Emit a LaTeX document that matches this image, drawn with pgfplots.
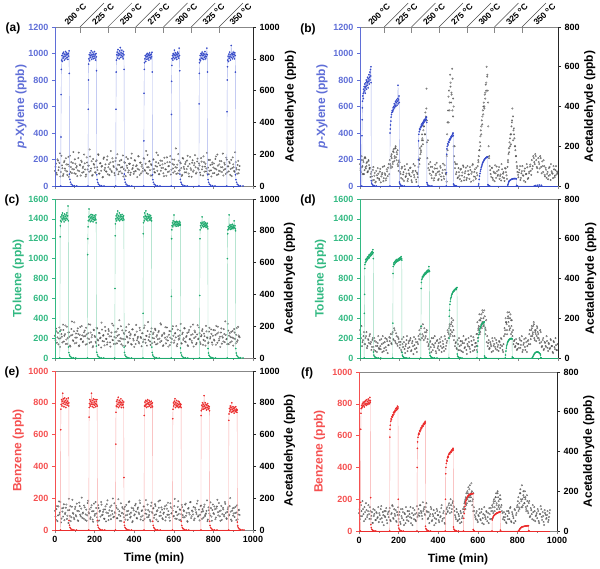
\documentclass[border=0pt]{standalone}
\usepackage{pgfplots}
\pgfplotsset{compat=1.18}
\usepackage{pgfplotstable}
\usepackage{fontspec}
\setmainfont{Liberation Sans}
\definecolor{blueT}{RGB}{95,110,215}
\definecolor{blueD}{RGB}{55,75,200}
\definecolor{blueL}{RGB}{165,175,235}
\definecolor{greenT}{RGB}{50,185,130}
\definecolor{greenD}{RGB}{30,170,110}
\definecolor{greenL}{RGB}{145,215,185}
\definecolor{redT}{RGB}{245,80,80}
\definecolor{redD}{RGB}{235,45,45}
\definecolor{redL}{RGB}{248,165,165}
\definecolor{grayP}{RGB}{80,80,80}
\definecolor{axgray}{RGB}{135,135,135}

\pgfplotstableread{
t a c e b d f
0 95 140 120 110 140 90
5 140 185 64 70 100 60
10 72 96 150 95 60 130
15 160 158 92 130 90 75
20 118 122 180 60 130 110
25 205 70 110 145 70 50
30 88 176 48 88 110 95
35 130 134 136 120 50 140
40 64 210 84 75 95 70
45 150 104 162 105 75 100
50 110 150 100 92 120 85
55 175 88 140 60 80 120
60 92 196 70 48 55 60
65 135 126 124 80 100 95
70 58 162 196 30 40 40
75 190 78 88 66 85 75
80 120 142 56 22 60 105
85 82 230 146 54 30 55
90 145 112 108 90 75 90
95 105 168 78 38 50 70
100 168 92 132 72 90 45
105 76 154 94 18 45 80
110 125 128 166 58 70 110
115 98 186 60 96 110 65
120 210 74 118 40 35 95
125 134 146 150 64 80 30
130 66 118 86 28 55 75
135 152 200 204 84 95 100
140 112 100 104 50 25 55
145 88 136 72 110 65 85
150 142 172 142 130 85 70
155 60 84 98 90 120 115
160 180 148 58 160 70 50
165 104 124 170 120 130 90
170 128 212 112 185 90 125
175 230 96 130 140 140 60
180 94 160 80 200 75 85
185 156 130 156 170 110 105
190 70 68 66 110 60 45
195 138 178 120 75 95 80
200 116 138 90 120 50 60
205 84 102 176 60 80 95
210 162 190 104 88 30 35
215 100 116 52 34 70 75
220 196 82 138 70 105 110
225 78 156 116 100 45 55
230 144 128 84 46 60 90
235 122 222 160 62 90 40
240 54 106 96 24 35 70
245 170 144 128 80 75 100
250 102 80 70 56 55 50
255 136 170 148 92 100 85
260 90 120 110 30 40 120
265 186 98 186 68 85 65
270 118 182 62 110 20 30
275 68 136 124 44 65 80
280 148 72 92 76 95 105
285 96 160 154 20 50 55
290 174 114 100 60 80 90
295 126 204 80 96 110 70
300 82 132 168 110 140 110
305 158 90 106 160 90 75
310 110 166 140 200 160 130
315 200 140 74 240 120 90
320 74 108 194 280 110 60
325 132 238 118 330 150 100
330 92 124 88 370 100 120
335 164 86 56 390 130 80
340 120 174 144 140 80 140
345 60 118 102 90 60 95
350 150 152 130 80 45 65
355 98 76 66 120 85 40
360 182 194 158 54 30 85
365 114 130 96 96 70 110
370 86 102 120 70 100 55
375 140 162 180 40 55 75
380 70 142 78 108 75 30
385 176 88 110 62 25 90
390 106 180 50 88 90 60
395 130 120 136 30 60 100
400 90 70 92 74 40 80
405 160 148 154 100 80 45
410 124 208 116 48 105 70
415 56 112 72 66 50 115
420 188 134 142 112 70 50
425 102 92 100 36 35 90
430 146 174 170 82 95 65
435 80 126 84 58 60 35
440 134 156 124 260 85 85
445 112 100 60 380 130 120
450 172 188 148 480 150 100
455 96 116 104 560 110 140
460 220 140 188 420 170 90
465 118 78 80 590 130 130
470 76 226 126 350 190 110
475 154 132 94 150 90 150
480 100 104 64 90 60 120
485 138 166 152 60 80 80
490 66 94 112 110 45 60
495 166 150 134 44 70 95
500 108 124 76 70 100 55
505 84 184 162 34 40 75
510 150 86 98 86 65 40
515 122 144 118 52 85 90
520 194 118 54 104 30 65
525 74 170 140 28 75 110
530 130 100 186 64 55 120
535 96 210 90 92 95 150
540 158 138 128 40 20 170
545 114 76 68 76 60 140
550 62 158 110 58 80 190
555 142 128 150 96 45 150
560 104 92 82 22 110 230
565 180 192 134 70 65 170
570 88 110 172 110 35 200
575 126 146 96 48 90 160
580 150 82 58 84 55 120
585 72 168 144 36 75 80
590 168 120 106 66 40 60
595 110 200 122 100 100 100
600 134 96 88 150 160 45
605 92 154 196 220 120 75
610 236 130 114 280 200 90
615 116 74 70 330 150 55
620 80 178 146 380 230 110
625 160 116 102 420 170 65
630 100 142 130 460 210 35
635 142 214 62 510 140 80
640 64 90 158 600 80 60
645 176 160 94 480 60 95
650 120 124 124 200 90 70
655 86 186 80 100 50 40
660 152 100 166 60 70 85
665 106 138 108 90 30 115
670 190 80 52 40 85 60
675 78 164 138 72 60 100
680 138 118 98 24 100 140
685 112 196 176 64 45 120
690 58 108 86 98 75 170
695 162 150 116 50 55 130
700 98 72 144 80 35 200
705 144 172 72 36 80 150
710 118 134 128 58 65 110
715 84 94 100 110 95 160
720 172 206 184 44 40 130
725 104 122 90 70 70 90
730 130 156 60 26 150 70
735 68 88 150 88 200 55
740 154 144 112 54 170 85
745 122 182 132 96 230 40
750 186 114 78 160 180 75
755 90 138 160 220 140 100
760 140 78 96 260 220 60
765 110 168 120 300 160 120
770 76 126 56 390 110 45
775 164 98 142 280 70 85
780 96 190 104 240 90 65
785 132 132 174 180 60 110
790 60 152 84 120 75 50
795 148 84 126 70 45 90
800 116 176 106 44 70 130
805 82 110 148 82 100 170
810 170 144 68 30 50 110
815 104 202 136 64 85 210
820 198 96 190 100 30 150
825 74 160 92 52 65 120
830 136 122 118 76 95 180
835 92 70 58 20 40 140
840 156 186 152 60 80 160
845 118 136 100 94 60 100
850 66 104 130 40 90 125
855 146 150 86 72 120 90
860 108 230 164 108 70 150
865 178 118 74 56 140 75
870 86 88 114 86 110 105
875 124 172 144 150 160 60
880 152 140 96 120 100 95
885 70 98 200 160 130 120
890 164 164 66 130 85 50
895 112 128 122 90 150 80
900 136 78 90 140 120 65
905 94 182 140 110 90 100
910 212 120 108 150 140 40
915 114 146 62 96 80 85
920 78 102 156 124 60 110
925 158 196 98 70 100 55
930 102 134 128 100 45 75
935 nan nan nan 48 75 30
940 nan nan nan 82 55 90
945 nan nan nan 60 85 60
950 nan nan nan 34 35 80
955 nan nan nan 90 70 45
960 nan nan nan 56 50 70
965 nan nan nan 110 90 105
970 nan nan nan 66 60 nan
975 nan nan nan 40 25 nan
980 nan nan nan 84 80 nan
985 nan nan nan 52 45 nan
990 nan nan nan 100 65 nan
995 nan nan nan 74 40 nan
}\gtab

\pgfplotstableread{
t a c e b d f
2.5 120 112 84 80 120 110
7.5 82 168 132 130 160 75
12.5 168 130 56 100 80 100
17.5 100 86 148 60 110 150
22.5 146 192 98 140 70 85
27.5 60 124 176 95 100 120
32.5 190 150 72 115 130 60
37.5 112 98 116 70 60 105
42.5 76 176 140 125 90 80
47.5 158 140 62 85 110 130
52.5 98 204 108 45 70 60
57.5 136 116 160 70 40 100
62.5 70 90 90 28 90 75
67.5 182 160 44 95 55 40
72.5 124 134 126 52 100 110
77.5 88 72 150 18 35 85
82.5 150 182 80 76 80 55
87.5 106 146 190 40 60 95
92.5 214 108 102 62 110 65
97.5 80 224 68 30 45 120
102.5 140 128 146 86 60 90
107.5 116 96 86 48 95 60
112.5 62 170 120 66 30 125
117.5 176 152 58 24 75 45
122.5 94 80 172 100 50 80
127.5 130 196 96 56 100 100
132.5 160 118 134 38 40 70
137.5 84 142 76 74 85 115
142.5 122 104 110 92 65 40
147.5 198 162 154 60 105 95
152.5 104 138 64 110 100 100
157.5 72 190 128 150 75 55
162.5 148 88 92 95 120 85
167.5 128 156 184 175 95 130
172.5 90 120 104 125 150 65
177.5 186 210 70 190 85 110
182.5 110 100 142 145 125 75
187.5 64 144 118 160 70 50
192.5 170 76 52 100 105 95
197.5 134 174 166 130 80 120
202.5 86 132 100 70 65 80
207.5 156 94 138 40 40 45
212.5 118 186 80 96 95 110
217.5 200 110 156 58 55 65
222.5 78 158 60 26 80 95
227.5 142 124 122 84 25 30
232.5 96 66 176 50 70 85
237.5 126 178 94 110 110 120
242.5 58 140 114 36 50 55
247.5 180 104 72 64 85 75
252.5 114 196 130 90 90 100
257.5 92 120 54 48 35 70
262.5 164 84 162 20 75 40
267.5 74 150 106 76 60 90
272.5 138 170 88 56 105 115
277.5 106 98 144 102 45 60
282.5 220 136 68 32 80 85
287.5 88 216 120 68 30 50
292.5 152 112 198 44 70 125
297.5 120 88 84 130 95 80
302.5 68 164 112 140 120 90
307.5 176 128 152 180 150 130
312.5 102 92 74 230 100 100
317.5 134 184 130 210 170 75
322.5 90 146 96 300 90 145
327.5 158 106 58 260 130 110
332.5 116 200 168 350 110 85
337.5 80 122 108 330 140 120
342.5 192 78 136 230 95 100
347.5 108 158 80 110 70 60
352.5 146 118 146 62 80 95
357.5 62 172 92 96 55 75
362.5 128 136 118 40 100 120
367.5 170 96 64 74 40 50
372.5 98 212 176 28 65 85
377.5 140 124 102 88 110 105
382.5 84 150 84 54 35 65
387.5 204 84 140 116 85 40
392.5 112 180 56 70 50 110
397.5 76 110 124 36 75 80
402.5 162 142 98 58 95 55
407.5 94 88 164 92 60 95
412.5 130 166 76 30 30 75
417.5 108 126 132 80 85 130
422.5 186 100 110 48 55 60
427.5 70 190 186 104 110 100
432.5 148 132 66 66 45 40
437.5 122 74 120 22 75 85
442.5 92 156 90 180 140 110
447.5 174 116 148 320 100 95
452.5 100 204 70 420 170 130
457.5 140 96 128 520 120 115
462.5 82 138 100 460 200 160
467.5 196 170 160 540 160 95
472.5 118 112 82 400 140 140
477.5 156 148 116 200 110 125
482.5 66 82 54 110 75 100
487.5 132 186 172 70 50 70
492.5 104 126 106 40 90 110
497.5 168 160 138 90 40 50
502.5 88 100 94 52 60 85
507.5 126 176 150 82 85 60
512.5 210 134 66 24 35 100
517.5 96 90 124 68 75 45
522.5 144 162 180 96 110 75
527.5 74 122 88 44 50 95
532.5 160 218 112 74 90 140
537.5 114 108 142 30 40 110
542.5 136 146 74 100 70 190
547.5 80 80 102 58 100 160
552.5 178 152 134 36 55 220
557.5 106 194 60 80 30 170
562.5 64 116 156 62 85 180
567.5 150 134 96 104 65 240
572.5 124 72 120 28 105 150
577.5 92 170 78 70 40 190
582.5 188 128 168 46 75 100
587.5 102 98 104 92 60 70
592.5 140 182 136 54 120 90
597.5 84 140 86 130 140 55
602.5 166 110 150 180 190 80
607.5 118 156 72 200 130 110
612.5 76 200 114 260 220 60
617.5 134 88 94 310 180 95
622.5 200 138 182 360 160 40
627.5 96 124 64 400 240 85
632.5 148 172 126 440 150 120
637.5 112 94 100 480 190 70
642.5 70 150 144 550 110 100
647.5 172 114 80 420 75 50
652.5 108 188 118 150 45 90
657.5 138 104 160 80 80 115
662.5 86 132 90 46 60 60
667.5 160 158 56 92 100 100
672.5 124 76 134 30 35 130
677.5 60 176 108 66 70 90
682.5 182 120 174 104 55 160
687.5 100 144 76 40 90 150
692.5 146 96 122 74 40 190
697.5 90 210 98 56 65 110
702.5 130 126 62 96 85 170
707.5 194 162 140 50 50 130
712.5 78 86 112 28 100 180
717.5 154 148 166 84 60 120
722.5 112 118 84 62 30 100
727.5 142 192 128 40 110 60
732.5 84 100 96 90 120 95
737.5 176 136 154 70 180 70
742.5 104 170 70 36 140 45
747.5 66 82 118 130 210 100
752.5 150 154 146 190 160 60
757.5 122 108 88 240 200 90
762.5 92 202 104 210 120 115
767.5 208 130 186 330 190 50
772.5 116 92 66 350 140 95
777.5 74 166 124 260 85 75
782.5 164 122 92 200 55 40
787.5 98 180 138 150 95 105
792.5 136 98 58 90 40 80
797.5 80 140 160 56 70 120
802.5 142 116 100 68 50 150
807.5 110 174 130 100 90 120
812.5 186 84 78 40 65 190
817.5 70 152 148 76 110 160
822.5 128 196 112 54 40 230
827.5 96 110 170 26 75 130
832.5 158 134 86 88 55 170
837.5 118 160 122 60 100 200
842.5 88 90 64 110 30 120
847.5 204 128 140 36 85 180
852.5 102 182 96 64 70 100
857.5 134 100 176 98 140 140
862.5 76 146 108 76 95 70
867.5 166 120 70 130 160 115
872.5 124 214 132 100 120 85
877.5 92 88 90 140 180 130
882.5 144 156 150 110 90 55
887.5 108 132 116 150 140 100
892.5 62 104 58 96 110 75
897.5 180 170 136 70 130 90
902.5 118 124 104 120 100 110
907.5 90 160 82 88 75 50
912.5 150 92 146 140 130 85
917.5 104 188 110 64 55 125
922.5 132 112 68 100 90 70
927.5 80 142 124 130 40 95
932.5 126 130 94 56 80 45
937.5 nan nan nan 92 60 105
942.5 nan nan nan 40 110 80
947.5 nan nan nan 70 50 65
952.5 nan nan nan 50 75 100
957.5 nan nan nan 96 45 55
962.5 nan nan nan 30 95 90
967.5 nan nan nan 74 60 nan
972.5 nan nan nan 62 30 nan
977.5 nan nan nan 100 85 nan
982.5 nan nan nan 44 55 nan
987.5 nan nan nan 80 100 nan
992.5 nan nan nan 58 40 nan
997.5 nan nan nan 66 70 nan
}\gtabb

\newcommand{\lblfont}{\fontsize{12}{12}\selectfont\bfseries}
\newcommand{\tckfont}{\fontsize{9}{9}\selectfont\bfseries}

\pgfplotsset{
  base/.style={width=198pt, height=159pt, scale only axis, xmin=0, xmax=1000, clip=false,
    /pgf/number format/assume math mode=true,
    /pgf/number format/1000 sep={},
    xticklabel style={font=\tckfont},
    yticklabel style={font=\tckfont},
    tick align=outside, major tick length=3pt, minor tick length=1.6pt,
    every axis y label/.style={at={(axis description cs:-0.18,0.5)}, rotate=90, anchor=center, font=\lblfont},
    every axis x label/.style={at={(axis description cs:0.5,-0.176)}, anchor=center, font=\lblfont},
  },
  leftax/.style={base, axis y line*=left, axis x line*=box, xtick pos=left,
    xtick={0,200,...,1000}, minor x tick num=1,
    x axis line style={draw=axgray, line width=0.6pt},
    xtick style={draw=axgray, line width=0.6pt},
    y axis line style={draw=#1, line width=0.6pt},
    ytick style={draw=#1, line width=0.6pt},
    yticklabel style={text=#1},
    ylabel style={text=#1},
  },
  rightax/.style={base, axis y line*=right, axis x line=none,
    y axis line style={draw=black!85, line width=0.6pt},
    ytick style={draw=black!85, line width=0.6pt},
    every axis y label/.style={at={(axis description cs:#1,0.5)}, rotate=90, anchor=center, font=\lblfont},
    ylabel={Acetaldehyde (ppb)},
  },
  grayscat/.style={only marks, mark=o, mark size=0.8pt, mark options={draw=grayP, line width=0.3pt}},
  voc/.style={draw=#1L, line width=0.4pt, mark=*, mark size=0.6pt, mark options={draw=#1D, fill=#1D}},
  base0/.style={draw=#1D, line width=0.9pt},
}
\tikzset{tl/.style={rotate=45, anchor=south west, inner sep=0.6pt, font=\fontsize{8.5}{8.5}\selectfont\bfseries}}

\begin{document}
\begin{tikzpicture}
\useasboundingbox (0pt,0pt) rectangle (600pt,-568pt);

% ---------------- (a)
\begin{axis}[rightax=1.19, at={(55pt,-27pt)}, anchor=north west, ymin=0, ymax=1000, ytick={0,200,...,1000}]
\addplot[grayscat] table[x=t,y=a]{\gtab};
\addplot[grayscat] table[x=t,y=a]{\gtabb};
\end{axis}
\begin{axis}[leftax=blueT, at={(55pt,-27pt)}, anchor=north west, ymin=0, ymax=1200, ytick={0,200,...,1200},
  xticklabels={}, ylabel={\textit{p}-Xylene (ppb)}, ylabel style={at={(axis description cs:-0.172,0.5)}}]
\addplot[voc=blue] coordinates {
(29,0)(30,370)(31,690)(32,880)(33,950)(35,985)(37,940)(39,1000)(41,965)(43,1010)(45,975)(47,950)(49,995)(51,980)(53,1015)(55,960)(57,990)(59,1005)(61,970)(63,995)(65,955)(67,1000)(69,980)(71,1020)(72,850)(73,90)(75,50)(78,28)(82,14)(88,6)(97,2)(110,0)
(167,0)(168,580)(169,800)(170,920)(171,960)(173,990)(175,945)(177,1005)(179,970)(181,985)(183,1020)(185,955)(187,990)(189,975)(191,1010)(193,960)(195,995)(197,980)(199,1015)(201,965)(203,990)(205,950)(207,1000)(209,975)(210,870)(211,85)(213,48)(216,27)(220,13)(226,6)(235,2)(248,0)
(307,0)(308,580)(309,860)(310,950)(312,990)(314,1010)(316,965)(318,1030)(320,985)(322,1000)(324,960)(326,1020)(328,990)(330,1045)(332,970)(334,1005)(336,985)(338,1025)(340,975)(342,1000)(344,960)(346,1015)(348,990)(349,880)(350,90)(352,50)(355,28)(359,14)(365,6)(374,2)(388,0)
(448,0)(449,340)(450,700)(451,880)(452,930)(454,960)(456,985)(458,940)(460,975)(462,995)(464,955)(466,980)(468,1000)(470,965)(472,990)(474,950)(476,985)(478,1005)(480,970)(482,990)(484,960)(486,995)(488,975)(490,1010)(491,860)(492,85)(494,48)(497,27)(501,13)(507,6)(516,2)(530,0)
(587,0)(588,540)(589,790)(590,910)(591,960)(593,985)(595,950)(597,1000)(599,970)(601,990)(603,1025)(605,960)(607,985)(609,1005)(611,970)(613,995)(615,955)(617,990)(619,1010)(621,975)(623,1000)(625,965)(627,1040)(629,985)(630,870)(631,90)(633,50)(636,28)(640,14)(646,6)(655,2)(668,0)
(727,0)(728,620)(729,850)(730,930)(731,955)(733,985)(735,945)(737,1000)(739,965)(741,990)(743,1010)(745,960)(747,985)(749,1000)(751,955)(753,995)(755,970)(757,1015)(759,980)(761,960)(763,995)(765,975)(767,1040)(769,990)(770,860)(771,85)(773,48)(776,27)(780,13)(786,6)(795,2)(808,0)
(868,0)(869,560)(870,800)(871,900)(872,950)(874,980)(876,940)(878,995)(880,965)(882,1010)(884,975)(886,950)(888,990)(890,1060)(892,970)(894,1000)(896,960)(898,990)(900,1010)(902,975)(904,995)(906,960)(908,1005)(910,985)(911,860)(912,85)(914,48)(917,27)(921,13)(927,6)(936,2)(950,0)
};
\addplot[base0=blue] coordinates {(0,0)(940,0)};
\pgfplotsinvokeforeach{126,267,408,548,688,828}{
  \draw[axgray, line width=0.6pt] (axis cs:#1,1200) -- ++(0,-6pt);
  \draw[black!70, line width=0.5pt] (axis cs:#1,1200) -- ++(24pt,24pt);
}
\node[tl] at (axis cs:66,1200) {200 \textsuperscript{o}C};
\node[tl] at (axis cs:206,1200) {225 \textsuperscript{o}C};
\node[tl] at (axis cs:346,1200) {250 \textsuperscript{o}C};
\node[tl] at (axis cs:486,1200) {275 \textsuperscript{o}C};
\node[tl] at (axis cs:626,1200) {300 \textsuperscript{o}C};
\node[tl] at (axis cs:764,1200) {325 \textsuperscript{o}C};
\node[tl] at (axis cs:900,1200) {350 \textsuperscript{o}C};
\end{axis}

% ---------------- (b)
\begin{axis}[rightax=1.16, at={(360pt,-27pt)}, anchor=north west, ymin=0, ymax=800, ytick={0,200,...,800}]
\addplot[grayscat] table[x=t,y=b]{\gtab};
\addplot[grayscat] table[x=t,y=b]{\gtabb};
\addplot[grayscat] coordinates {(3,90)(8,150)(13,60)(18,120)(23,80)(28,140)(33,100)(38,70)(43,130)(48,90)
(155,100)(160,140)(165,110)(170,170)(175,150)(180,190)(185,130)(190,180)(195,120)
(298,130)(303,190)(308,170)(313,260)(318,230)(323,300)(328,260)(332,340)(336,490)(338,220)
(438,150)(442,320)(447,450)(452,380)(457,500)(462,470)(467,380)(470,440)(473,200)(478,120)
(598,120)(603,180)(608,250)(613,300)(618,350)(623,400)(628,390)(633,470)(638,520)(643,560)(648,300)(652,140)
(748,120)(753,170)(758,200)(763,260)(768,320)(773,230)(778,290)(783,200)(788,150)(793,100)};
\end{axis}
\begin{axis}[leftax=blueT, at={(360pt,-27pt)}, anchor=north west, ymin=0, ymax=1200, ytick={0,200,...,1200},
  xticklabels={}, ylabel={\textit{p}-Xylene (ppb)}, ylabel style={at={(axis description cs:-0.192,0.5)}}]
\addplot[voc=blue] coordinates {
(9,0)(10,380)(11,500)(12,590)(13,640)(14,680)(16,700)(17,660)(18,730)(20,710)(21,750)(23,720)(24,770)(26,740)(27,700)(29,780)(30,750)(32,800)(33,730)(35,790)(36,760)(38,820)(39,780)(41,740)(42,810)(44,790)(45,840)(47,770)(48,820)(50,860)(51,800)(53,880)(54,830)(55,900)(56,780)(57,40)(59,22)(62,12)(66,6)(72,2)(82,0)
(151,0)(152,400)(153,430)(154,460)(156,490)(157,520)(159,540)(161,555)(163,570)(165,560)(167,590)(169,575)(171,600)(173,620)(175,590)(177,610)(179,640)(181,600)(183,630)(185,650)(187,610)(189,640)(191,660)(192,760)(193,620)(195,650)(197,680)(198,630)(199,30)(201,17)(204,9)(208,4)(214,1)(224,0)
(294,0)(295,200)(296,340)(297,390)(299,410)(301,430)(303,425)(305,445)(307,440)(309,460)(311,450)(313,470)(315,460)(317,480)(319,470)(321,490)(323,480)(325,500)(327,490)(329,505)(331,495)(333,515)(335,500)(336,520)(337,480)(338,25)(340,14)(343,7)(347,3)(353,1)(363,0)
(436,0)(437,100)(438,240)(439,280)(441,300)(443,320)(445,310)(447,335)(449,330)(451,350)(453,345)(455,360)(457,355)(459,370)(461,365)(463,380)(465,375)(467,390)(469,395)(470,400)(471,380)(472,15)(474,8)(477,4)(481,2)(487,0)
(599,0)(600,15)(602,50)(604,75)(606,95)(608,112)(610,125)(612,138)(614,148)(616,158)(618,167)(620,175)(622,182)(624,188)(626,194)(628,199)(630,203)(632,207)(634,210)(636,213)(638,215)(640,217)(642,219)(644,220)(645,218)(646,10)(648,5)(651,2)(655,0)
(746,0)(747,10)(749,22)(751,30)(753,36)(755,40)(758,44)(761,47)(764,50)(767,52)(770,53)(773,55)(776,55)(779,56)(782,55)(785,56)(788,55)(790,54)(791,5)(793,2)(796,0)
(880,0)(885,4)(895,6)(905,7)(915,6)(918,0)
};
\addplot[base0=blue] coordinates {(0,0)(1000,0)};
\pgfplotsinvokeforeach{122,260,399,540,679,818}{
  \draw[axgray, line width=0.6pt] (axis cs:#1,1200) -- ++(0,-6pt);
  \draw[black!70, line width=0.5pt] (axis cs:#1,1200) -- ++(24pt,24pt);
}
\node[tl] at (axis cs:60,1200) {200 \textsuperscript{o}C};
\node[tl] at (axis cs:198,1200) {225 \textsuperscript{o}C};
\node[tl] at (axis cs:337,1200) {250 \textsuperscript{o}C};
\node[tl] at (axis cs:478,1200) {275 \textsuperscript{o}C};
\node[tl] at (axis cs:617,1200) {300 \textsuperscript{o}C};
\node[tl] at (axis cs:756,1200) {325 \textsuperscript{o}C};
\node[tl] at (axis cs:895,1200) {350 \textsuperscript{o}C};
\end{axis}

% ---------------- (c)
\begin{axis}[rightax=1.185, at={(55pt,-199pt)}, anchor=north west, ymin=0, ymax=1000, ytick={0,200,...,1000}]
\addplot[grayscat] table[x=t,y=c]{\gtab};
\addplot[grayscat] table[x=t,y=c]{\gtabb};
\end{axis}
\begin{axis}[leftax=greenT, at={(55pt,-199pt)}, anchor=north west, ymin=0, ymax=1600, ytick={0,200,...,1600},
  xticklabels={}, ylabel={Toluene (ppb)}, ylabel style={at={(axis description cs:-0.185,0.5)}}]
\addplot[voc=green] coordinates {
(24,0)(25,270)(26,1220)(27,1330)(28,1380)(30,1420)(32,1370)(34,1440)(36,1400)(38,1460)(40,1390)(42,1430)(44,1410)(46,1370)(48,1450)(50,1400)(52,1425)(54,1385)(56,1440)(58,1405)(60,1460)(62,1395)(64,1430)(66,1530)(67,1380)(68,110)(70,55)(73,30)(77,15)(83,6)(92,2)(105,0)
(164,0)(165,1040)(166,1200)(167,1320)(168,1380)(170,1420)(172,1500)(174,1390)(176,1430)(178,1370)(180,1410)(182,1445)(184,1380)(186,1420)(188,1400)(190,1440)(192,1370)(194,1415)(196,1395)(198,1435)(200,1385)(202,1420)(204,1400)(206,1440)(207,1390)(208,1360)(209,120)(211,58)(214,32)(218,16)(224,6)(233,2)(246,0)
(302,0)(303,700)(304,1230)(305,1350)(307,1400)(309,1430)(311,1380)(313,1450)(315,1410)(317,1480)(319,1390)(321,1430)(323,1400)(325,1460)(327,1380)(329,1420)(331,1440)(333,1395)(335,1425)(337,1400)(339,1445)(341,1385)(343,1420)(345,1405)(347,1430)(348,1390)(349,110)(351,55)(354,30)(358,15)(364,6)(373,2)(386,0)
(444,0)(445,450)(446,1250)(447,1360)(449,1420)(451,1380)(453,1460)(455,1400)(457,1430)(459,1480)(461,1390)(463,1420)(465,1400)(467,1450)(469,1380)(471,1425)(473,1410)(475,1440)(477,1390)(479,1420)(481,1400)(483,1435)(485,1385)(487,1410)(488,1380)(489,110)(491,55)(494,30)(498,15)(504,6)(513,2)(526,0)
(587,0)(588,620)(589,1200)(590,1290)(591,1330)(593,1360)(595,1320)(597,1380)(599,1340)(601,1440)(603,1350)(605,1370)(607,1330)(609,1365)(611,1345)(613,1375)(615,1325)(617,1360)(619,1340)(621,1370)(623,1330)(625,1355)(627,1345)(629,1375)(631,1335)(632,1360)(633,1340)(634,100)(636,52)(639,29)(643,14)(649,6)(658,2)(671,0)
(730,0)(731,630)(732,1200)(733,1290)(735,1330)(737,1360)(739,1310)(741,1350)(743,1420)(745,1330)(747,1360)(749,1320)(751,1345)(753,1370)(755,1325)(757,1350)(759,1330)(761,1360)(763,1315)(765,1345)(767,1330)(769,1355)(771,1320)(772,1300)(773,95)(775,50)(778,28)(782,14)(788,6)(797,2)(810,0)
(870,0)(871,1000)(872,1250)(873,1290)(875,1320)(877,1300)(879,1440)(881,1310)(883,1335)(885,1295)(887,1320)(889,1340)(891,1300)(893,1325)(895,1310)(897,1345)(899,1300)(901,1330)(903,1315)(905,1380)(907,1310)(909,1330)(911,1300)(912,1280)(913,95)(915,50)(918,28)(922,14)(928,6)(937,2)(950,0)
};
\addplot[base0=green] coordinates {(0,0)(940,0)};
\end{axis}

% ---------------- (d)
\begin{axis}[rightax=1.165, at={(360pt,-199pt)}, anchor=north west, ymin=0, ymax=800, ytick={0,200,...,800}]
\addplot[grayscat] table[x=t,y=d]{\gtab};
\addplot[grayscat] table[x=t,y=d]{\gtabb};
\addplot[grayscat] coordinates {(448,120)(453,160)(458,140)(463,180)(468,110)
(588,120)(593,180)(598,150)(603,220)(608,190)(613,170)(618,240)(623,200)(628,160)(633,120)
(733,140)(738,180)(743,120)(748,200)(753,230)(758,150)(763,190)(768,130)
(863,110)(868,150)(873,130)(878,170)(883,140)(888,120)(893,160)(898,100)};
\end{axis}
\begin{axis}[leftax=greenT, at={(360pt,-199pt)}, anchor=north west, ymin=0, ymax=1600, ytick={0,200,...,1600},
  xticklabels={}, ylabel={Toluene (ppb)}, ylabel style={at={(axis description cs:-0.2,0.5)}}]
\addplot[voc=green] coordinates {
(21,0)(22,450)(23,640)(24,900)(25,940)(27,960)(29,990)(31,970)(33,1000)(35,985)(37,1015)(39,995)(41,1020)(43,1005)(45,1035)(47,1010)(49,1040)(51,1025)(53,1050)(55,1030)(57,1060)(59,1040)(61,1070)(63,1050)(65,1090)(66,1060)(67,1000)(68,60)(70,30)(73,16)(77,8)(83,3)(92,1)(105,0)
(165,0)(166,350)(167,850)(168,920)(170,945)(172,960)(174,940)(176,970)(178,955)(180,980)(182,965)(184,990)(186,970)(188,985)(190,975)(192,995)(194,980)(196,1000)(198,985)(200,1005)(202,990)(204,1010)(206,995)(208,1020)(210,1000)(211,985)(212,55)(214,28)(217,15)(221,7)(227,3)(236,1)(249,0)
(307,0)(308,320)(309,700)(310,760)(312,790)(314,805)(316,820)(318,815)(320,835)(322,825)(324,845)(326,835)(328,855)(330,845)(332,860)(334,850)(336,870)(338,860)(340,880)(342,865)(344,885)(346,870)(348,920)(350,880)(351,870)(352,50)(354,26)(357,14)(361,7)(367,3)(376,1)(389,0)
(449,0)(450,200)(451,420)(452,480)(454,540)(456,570)(458,595)(460,610)(462,625)(464,640)(466,650)(468,660)(470,665)(472,675)(474,670)(476,685)(478,680)(480,690)(482,695)(484,700)(486,690)(488,705)(490,710)(491,40)(493,20)(496,10)(500,5)(506,2)(515,0)
(591,0)(592,60)(594,120)(596,170)(598,205)(600,235)(602,260)(604,280)(606,295)(608,308)(610,318)(612,327)(614,335)(616,341)(618,347)(620,352)(622,356)(624,359)(626,362)(628,364)(629,20)(631,8)(634,3)(638,0)
(734,0)(735,30)(737,70)(739,100)(741,122)(743,140)(745,153)(747,164)(749,172)(751,179)(753,184)(755,188)(757,191)(759,193)(761,195)(763,196)(765,196)(767,195)(768,190)(769,10)(771,4)(774,0)
(870,0)(871,5)(874,18)(877,30)(880,40)(883,48)(886,54)(889,58)(892,60)(895,61)(898,60)(901,58)(904,54)(907,48)(910,40)(912,30)(913,3)(915,0)
};
\addplot[base0=green] coordinates {(0,0)(1000,0)};
\end{axis}

% ---------------- (e)
\begin{axis}[rightax=1.185, at={(55pt,-371pt)}, anchor=north west, ymin=0, ymax=1000, ytick={0,200,...,1000}]
\addplot[grayscat] table[x=t,y=e]{\gtab};
\addplot[grayscat] table[x=t,y=e]{\gtabb};
\end{axis}
\begin{axis}[leftax=redT, at={(55pt,-371pt)}, anchor=north west, ymin=0, ymax=1000, ytick={0,200,...,1000},
  xlabel={Time (min)}, ylabel={Benzene (ppb)}, ylabel style={at={(axis description cs:-0.185,0.5)}}]
\addplot[voc=red] coordinates {
(28,0)(29,630)(30,760)(31,790)(33,820)(35,780)(37,810)(39,860)(41,795)(43,825)(45,775)(47,805)(49,830)(51,790)(53,815)(55,770)(57,800)(59,825)(61,785)(63,810)(65,795)(67,830)(69,780)(70,800)(71,60)(73,30)(76,16)(80,8)(86,3)(95,1)(108,0)
(171,0)(172,710)(173,770)(174,795)(176,820)(178,780)(180,810)(182,790)(184,860)(186,800)(188,775)(190,815)(192,790)(194,825)(196,770)(198,805)(200,785)(202,820)(204,795)(206,775)(208,810)(210,790)(212,820)(213,780)(214,60)(216,30)(219,16)(223,8)(229,3)(238,1)(251,0)
(306,0)(307,540)(308,740)(309,780)(311,810)(313,775)(315,820)(317,790)(319,835)(321,770)(323,800)(325,815)(327,780)(329,805)(331,790)(333,825)(335,770)(337,800)(339,785)(341,815)(343,790)(345,770)(347,805)(348,330)(349,50)(351,28)(354,15)(358,8)(364,3)(373,1)(386,0)
(450,0)(451,720)(452,780)(454,805)(456,780)(458,815)(460,790)(462,770)(464,810)(466,795)(468,820)(470,775)(472,800)(474,790)(476,815)(478,780)(480,805)(482,790)(484,770)(486,810)(488,795)(490,780)(492,800)(493,775)(494,55)(496,28)(499,15)(503,8)(509,3)(518,1)(531,0)
(594,0)(595,700)(596,760)(598,800)(600,780)(602,810)(604,790)(606,825)(608,770)(610,800)(612,785)(614,815)(616,775)(618,795)(620,780)(622,810)(624,770)(626,790)(628,805)(630,775)(632,795)(634,780)(636,790)(637,770)(638,55)(640,28)(643,15)(647,8)(653,3)(662,1)(675,0)
(737,0)(738,720)(739,750)(741,785)(743,760)(745,800)(747,775)(749,790)(751,760)(753,845)(755,780)(757,765)(759,800)(761,770)(763,790)(765,755)(767,785)(769,770)(771,795)(773,760)(775,780)(777,765)(779,775)(780,750)(781,55)(783,28)(786,15)(790,8)(796,3)(805,1)(818,0)
(877,0)(878,690)(879,730)(881,765)(883,745)(885,780)(887,755)(889,770)(891,740)(893,800)(895,760)(897,745)(899,775)(901,750)(903,765)(905,735)(907,770)(909,755)(911,745)(913,775)(915,750)(917,760)(919,740)(920,755)(921,50)(923,26)(926,14)(930,7)(936,3)(945,1)(955,0)
};
\addplot[base0=red] coordinates {(0,0)(940,0)};
\end{axis}

% ---------------- (f)
\begin{axis}[rightax=1.16, at={(359pt,-372pt)}, anchor=north west, ymin=0, ymax=800, ytick={0,200,...,800}]
\addplot[grayscat] table[x=t,y=f]{\gtab};
\addplot[grayscat] table[x=t,y=f]{\gtabb};
\addplot[grayscat] coordinates {(532,110)(537,160)(542,130)(547,200)(552,170)(557,210)(562,150)(567,190)(572,130)(577,100)
(675,120)(680,150)(685,100)(690,170)(695,140)(700,190)(705,120)(710,160)
(805,100)(810,140)(815,190)(820,120)(825,160)(830,200)(835,140)(840,170)(845,110)(850,150)};
\end{axis}
\begin{axis}[leftax=redT, at={(359pt,-372pt)}, anchor=north west, ymin=0, ymax=1000, ytick={0,200,...,1000},
  xlabel={Time (min)}, ylabel={Benzene (ppb)}, ylabel style={at={(axis description cs:-0.2,0.5)}}]
\addplot[voc=red] coordinates {
(7,0)(8,180)(9,640)(10,740)(11,770)(13,790)(15,775)(17,800)(19,785)(21,810)(23,790)(25,805)(27,780)(29,815)(31,795)(33,820)(35,800)(37,790)(39,825)(41,800)(43,815)(45,795)(47,830)(49,805)(51,820)(53,800)(55,840)(57,810)(58,820)(59,210)(60,40)(62,20)(65,10)(69,5)(75,2)(85,0)
(155,0)(156,590)(157,640)(158,665)(160,690)(162,705)(164,700)(166,720)(168,715)(170,730)(172,725)(174,745)(176,735)(178,750)(180,745)(182,760)(184,755)(186,770)(188,760)(190,775)(192,765)(194,785)(196,770)(197,780)(198,200)(199,35)(201,18)(204,9)(208,4)(214,1)(224,0)
(293,0)(294,400)(295,520)(296,560)(298,590)(300,605)(302,615)(304,610)(306,630)(308,625)(310,640)(312,635)(314,650)(316,645)(318,660)(320,655)(322,665)(324,660)(326,675)(328,670)(330,680)(332,675)(334,690)(335,680)(336,30)(338,15)(341,8)(345,4)(351,1)(361,0)
(436,0)(437,200)(438,360)(439,400)(441,425)(443,445)(445,440)(447,460)(449,470)(451,465)(453,480)(455,485)(457,490)(459,485)(461,495)(463,500)(465,495)(467,505)(469,510)(471,505)(473,515)(475,520)(476,510)(477,25)(479,12)(482,6)(486,3)(492,1)(502,0)
(528,0)(529,80)(531,110)(533,135)(535,155)(537,170)(539,183)(541,193)(543,201)(545,208)(547,213)(549,217)(551,221)(553,224)(555,226)(557,228)(559,230)(561,231)(563,232)(565,233)(567,233)(569,234)(571,234)(573,235)(575,235)(576,236)(577,10)(579,4)(582,0)
(672,0)(673,70)(675,80)(677,87)(679,92)(681,96)(683,99)(685,102)(687,104)(689,106)(691,108)(693,110)(695,111)(697,113)(699,114)(701,115)(703,116)(705,117)(707,118)(709,119)(711,120)(713,120)(714,5)(716,0)
(806,0)(807,2)(809,6)(811,10)(813,14)(815,17)(817,20)(819,22)(821,24)(824,26)(827,27)(830,28)(833,29)(836,30)(839,31)(842,31)(845,32)(848,32)(851,33)(854,33)(856,33)(857,2)(859,0)
};
\addplot[base0=red] coordinates {(0,0)(965,0)};
\end{axis}

% panel letters
\begin{scope}[every node/.style={font=\fontsize{12}{12}\selectfont\bfseries}]
\node at (13pt,-28pt) {(a)};
\node at (308pt,-29pt) {(b)};
\node at (12pt,-200pt) {(c)};
\node at (308pt,-200pt) {(d)};
\node at (12pt,-372pt) {(e)};
\node at (307pt,-373pt) {(f)};
\end{scope}
\end{tikzpicture}
\end{document}
